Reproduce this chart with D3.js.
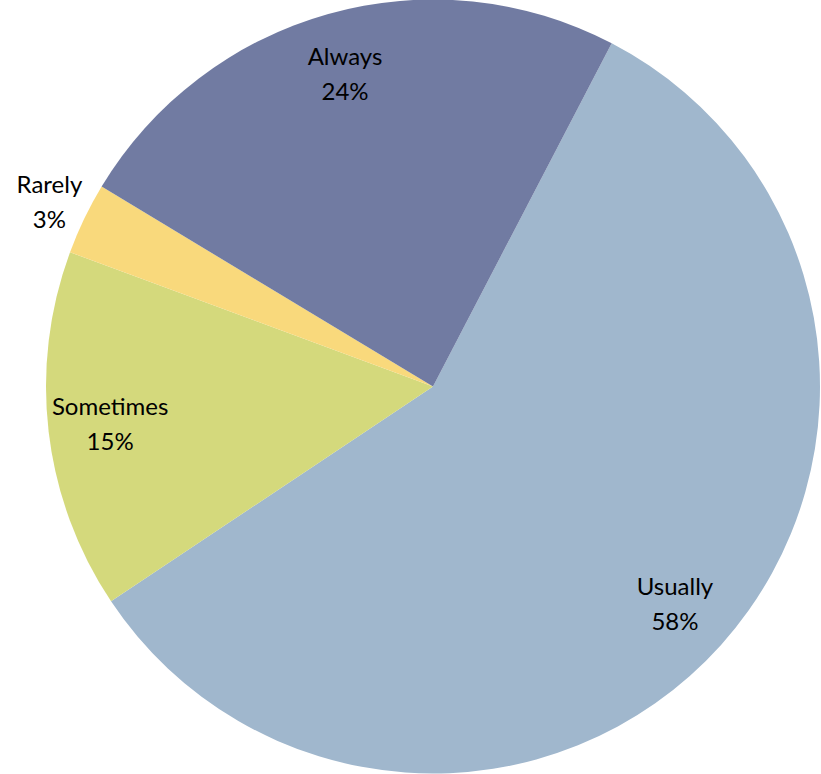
<!DOCTYPE html>
<html>
<head>
<meta charset="utf-8">
<script src="https://cdn.jsdelivr.net/npm/d3@7"></script>
<style>
  html, body { margin: 0; padding: 0; background: #fff; }
  svg { display: block; }
  text { font-family: Lato, "Open Sans", sans-serif; fill: #000; }
</style>
</head>
<body>
<svg id="chart" width="821" height="774"></svg>
<script>
// Survey answers, drawn clockwise starting with "Usually"
const categories = ["Usually", "Sometimes", "Rarely", "Always"];
const percents = [58, 15, 3, 24];
const colors = ["#A0B7CD", "#D4D97C", "#F9D97C", "#717BA2"];

const width = 821, height = 774;
const cx = 433, cy = 386.5, radius = 387;
const startDeg = 27.5;

const svg = d3.select("#chart");
const g = svg.append("g").attr("transform", `translate(${cx},${cy})`);

const rows = categories.map((c, i) => ({ name: c, value: percents[i], color: colors[i] }));

const pie = d3.pie()
  .value(d => d.value)
  .sort(null)
  .startAngle(startDeg * Math.PI / 180)
  .endAngle(startDeg * Math.PI / 180 + 2 * Math.PI);

const arc = d3.arc().innerRadius(0).outerRadius(radius);
const arcs = pie(rows);

g.selectAll("path.slice")
  .data(arcs)
  .join("path")
  .attr("class", "slice")
  .attr("d", arc)
  .attr("fill", d => d.data.color);

// Labels sit inside the slice; very thin slices put them just outside the rim
const labelPos = d => {
  const a = (d.startAngle + d.endAngle) / 2;
  const r = d.data.value < 5 ? radius * 1.1 : radius * 0.84;
  return [Math.sin(a) * r, -Math.cos(a) * r];
};

const labels = g.selectAll("text.label")
  .data(arcs)
  .join("text")
  .attr("class", "label")
  .attr("text-anchor", "middle")
  .attr("font-size", 24)
  .attr("transform", d => `translate(${labelPos(d)})`);

labels.append("tspan")
  .attr("x", 0)
  .attr("y", -9)
  .text(d => d.data.name);
labels.append("tspan")
  .attr("x", 0)
  .attr("y", 26)
  .text(d => d.data.value + "%");
</script>
</body>
</html>
